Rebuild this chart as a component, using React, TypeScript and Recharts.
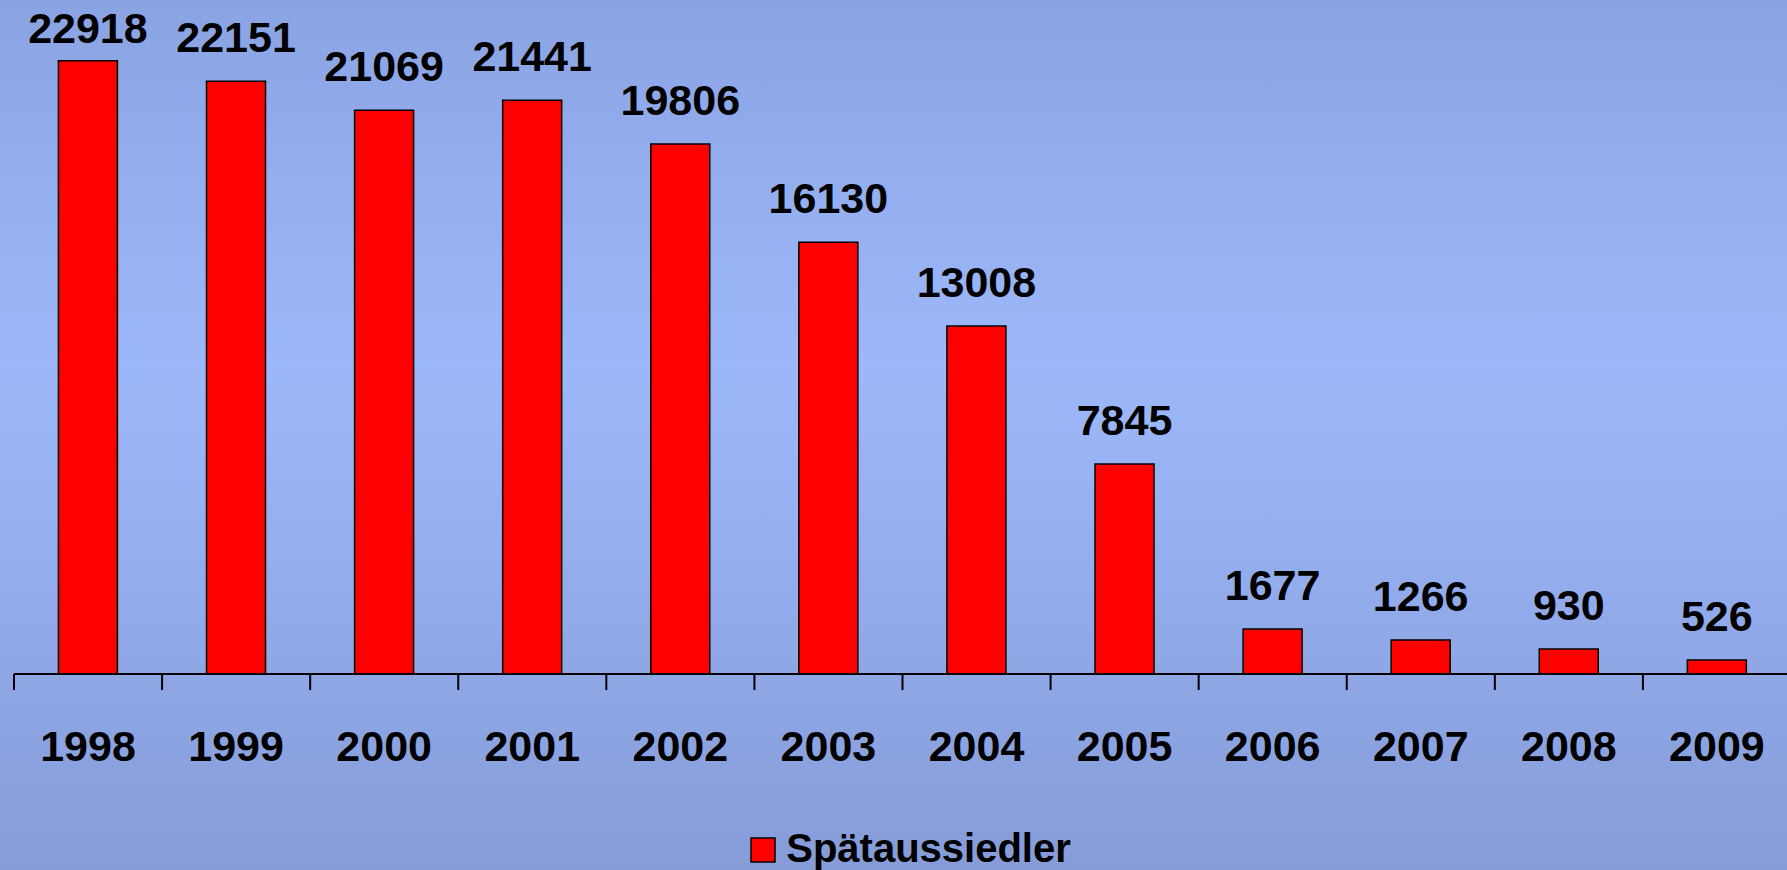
import { BarChart, Bar, XAxis, YAxis, Legend, LabelList } from 'recharts'

const years = ['1998', '1999', '2000', '2001', '2002', '2003', '2004', '2005', '2006', '2007', '2008', '2009']
const spaetaussiedler = [22918, 22151, 21069, 21441, 19806, 16130, 13008, 7845, 1677, 1266, 930, 526]
const seriesName = 'Spätaussiedler'

const data = years.map((year, i) => ({ year, value: spaetaussiedler[i] }))

const FONT = '"Liberation Sans", Arial, sans-serif'

const YearTick = (props: any) => {
  const { x, y, payload } = props
  const half = payload && payload.offset != null ? payload.offset : 74
  return (
    <g>
      <line x1={x - half} y1={y} x2={x - half} y2={y + 16} stroke="#000" strokeWidth={2} />
      <text
        x={x}
        y={y + 87}
        textAnchor="middle"
        fontFamily={FONT}
        fontWeight="bold"
        fontSize={43}
        fill="#000"
      >
        {payload.value}
      </text>
    </g>
  )
}

const ValueLabel = (props: any) => {
  const { x, y, width, value } = props
  // highest label is pushed down to stay inside the picture
  const baseline = Math.max(y - 29, 43)
  return (
    <text
      x={x + width / 2}
      y={baseline}
      textAnchor="middle"
      fontFamily={FONT}
      fontWeight="bold"
      fontSize={43}
      fill="#000"
    >
      {value}
    </text>
  )
}

const LegendContent = (props: any) => {
  const { payload } = props
  return (
    <div
      style={{
        display: 'flex',
        justifyContent: 'center',
        alignItems: 'flex-start',
        height: 40,
        paddingLeft: 34,
      }}
    >
      {(payload || []).map((entry: any) => (
        <div key={entry.value} style={{ display: 'flex', alignItems: 'flex-start' }}>
          <svg width={26} height={26} style={{ marginTop: 9, marginRight: 10 }}>
            <rect x={1} y={1} width={24} height={24} fill="#FF0000" stroke="#000" strokeWidth={1.5} />
          </svg>
          <span
            style={{
              fontFamily: FONT,
              fontWeight: 'bold',
              fontSize: 40,
              lineHeight: '40px',
              color: '#000',
            }}
          >
            {entry.value}
          </span>
        </div>
      ))}
    </div>
  )
}

export default function App() {
  return (
    <div
      style={{
        position: 'absolute',
        top: 0,
        left: 0,
        width: 1787,
        height: 870,
        overflow: 'hidden',
        background: 'linear-gradient(to bottom, #8AA3E3 0%, #9DB8FA 42%, #869CD8 100%)',
      }}
    >
      <BarChart
        width={1787}
        height={870}
        data={data}
        margin={{ top: 5, right: -4, left: 14, bottom: 56 }}
        barCategoryGap="30%"
      >
        <XAxis
          dataKey="year"
          height={100}
          interval={0}
          tickLine={false}
          tickSize={0}
          tickMargin={0}
          axisLine={{ stroke: '#000', strokeWidth: 2 }}
          tick={<YearTick />}
        />
        <YAxis hide domain={[0, 25000]} />
        <Legend
          verticalAlign="bottom"
          content={<LegendContent />}
          wrapperStyle={{ position: 'absolute', top: 828, left: 0, width: 1787, height: 40 }}
        />
        <Bar
          dataKey="value"
          name={seriesName}
          fill="#FF0000"
          stroke="#000"
          strokeWidth={1.5}
          isAnimationActive={false}
        >
          <LabelList dataKey="value" content={<ValueLabel />} />
        </Bar>
      </BarChart>
    </div>
  )
}
